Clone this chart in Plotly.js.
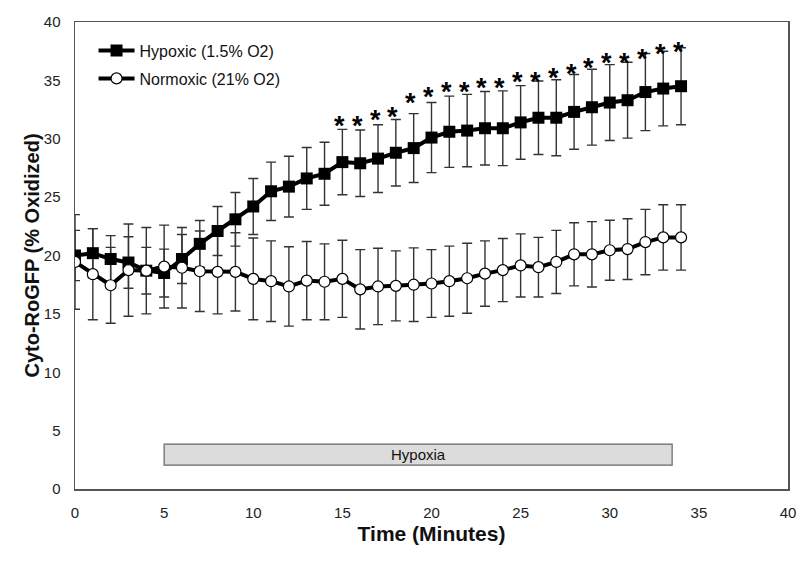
<!DOCTYPE html>
<html>
<head>
<meta charset="utf-8">
<script src="https://cdn.plot.ly/plotly-3.0.1.min.js"></script>
<style>html,body{margin:0;padding:0;background:#fff;}#chart{width:800px;height:563px;}</style>
</head>
<body>
<div id="chart"></div>
<script>
// Time points (minutes)
const timeMin = [0,1,2,3,4,5,6,7,8,9,10,11,12,13,14,15,16,17,18,19,20,21,22,23,24,25,26,27,28,29,30,31,32,33,34];

// Hypoxic (1.5% O2) mean and error
const hypoxic = [20.0,20.2,19.7,19.4,18.7,18.5,19.7,21.0,22.1,23.1,24.2,25.5,25.9,26.6,27.0,28.0,27.9,28.3,28.8,29.2,30.1,30.6,30.7,30.9,30.9,31.4,31.8,31.8,32.3,32.7,33.1,33.3,34.0,34.3,34.5];
const hypoxicErr = [2.15,2.1,2.0,2.2,2.0,2.05,2.1,2.0,2.1,2.3,2.4,2.5,2.6,2.65,2.7,2.8,2.85,2.9,2.85,2.95,3.0,3.05,3.1,3.15,3.2,3.15,3.15,3.25,3.2,3.25,3.25,3.25,3.3,3.2,3.3];

// Normoxic (21% O2) mean and error
const normoxic = [19.45,18.4,17.45,18.75,18.7,19.05,18.95,18.65,18.6,18.6,18.0,17.8,17.35,17.85,17.75,18.0,17.1,17.35,17.4,17.5,17.6,17.8,18.05,18.45,18.75,19.15,19.0,19.45,20.1,20.1,20.45,20.55,21.15,21.55,21.55];
const normoxicErr = [4.05,3.9,3.25,3.95,3.7,3.55,3.45,3.45,3.6,3.35,3.5,3.45,3.4,3.35,3.25,3.3,3.4,3.27,3.0,3.15,2.9,3.0,3.0,2.8,2.7,2.7,2.55,2.7,2.7,2.8,2.57,2.6,2.8,2.8,2.8];

// Significance markers (*)
const sigTime = [15,16,17,18,19,20,21,22,23,24,25,26,27,28,29,30,31,32,33,34];
const sigLevel = [31.5,31.5,32.0,32.3,33.5,34.0,34.4,34.4,34.75,34.75,35.25,35.25,35.6,36.0,36.45,36.9,36.9,37.3,37.7,37.9];

// Hypoxia period
const hypoxiaStart = 5, hypoxiaEnd = 33.5, hypoxiaLow = 2.05, hypoxiaHigh = 3.85;
const hypoxiaLabel = "Hypoxia";

const seriesNames = ["Hypoxic (1.5% O2)", "Normoxic (21% O2)"];
const xTitle = "Time (Minutes)";
const yTitle = "Cyto-RoGFP (% Oxidized)";

const FONT = "Liberation Sans, Arial, sans-serif";
const errStyle = {type:'data', visible:true, thickness:1.4, width:5, color:'#333'};

const traces = [
  {x:timeMin, y:hypoxic, mode:'markers', marker:{opacity:0, size:1}, showlegend:false, hoverinfo:'skip',
   error_y:Object.assign({array:hypoxicErr}, errStyle)},
  {x:timeMin, y:normoxic, mode:'markers', marker:{opacity:0, size:1}, showlegend:false, hoverinfo:'skip',
   error_y:Object.assign({array:normoxicErr}, errStyle)},
  {x:timeMin, y:hypoxic, name:seriesNames[0], mode:'lines+markers', legendgroup:'a',
   line:{color:'#000', width:4}, marker:{symbol:'square', size:12, color:'#000', line:{color:'#000', width:0}}},
  {x:timeMin, y:normoxic, name:seriesNames[1], mode:'lines+markers', legendgroup:'b',
   line:{color:'#000', width:4}, marker:{symbol:'circle', size:11, color:'#fff', line:{color:'#000', width:1.2}}}
];

const annotations = sigTime.map((t,i)=>({
  x:t, y:sigLevel[i], xref:'x', yref:'y', text:'*', showarrow:false,
  xshift:-3, yshift:-5, font:{family:FONT, size:27, color:'#000', weight:'bold'}
}));
annotations.push({
  x:(hypoxiaStart+hypoxiaEnd)/2, y:(hypoxiaLow+hypoxiaHigh)/2, xref:'x', yref:'y',
  text:hypoxiaLabel, showarrow:false, font:{family:FONT, size:15, color:'#111'}
});
annotations.push({
  x:0, y:0.5, xref:'paper', yref:'paper', xanchor:'center', yanchor:'middle', xshift:-44,
  text:'<b>'+yTitle+'</b>', textangle:-90, showarrow:false,
  font:{family:FONT, size:20, color:'#111'}
});

const layout = {
  width:800, height:563,
  margin:{l:75, r:12, t:22, b:74},
  paper_bgcolor:'#fff', plot_bgcolor:'#fff',
  font:{family:FONT, color:'#222'},
  showlegend:true,
  legend:{x:0.026, y:0.975, xanchor:'left', yanchor:'top', bgcolor:'rgba(0,0,0,0)',
          font:{family:FONT, size:16, color:'#111'}, traceorder:'grouped', tracegroupgap:4,
          itemwidth:36},
  xaxis:{range:[0,40], dtick:5, tick0:0, showgrid:false, zeroline:false, showline:true, mirror:true,
         linecolor:'#555', linewidth:1.5, ticks:'', ticklabelstandoff:9,
         tickfont:{family:FONT, size:15, color:'#222'},
         title:{text:'<b>'+xTitle+'</b>', standoff:7, font:{family:FONT, size:21, color:'#111'}}},
  yaxis:{range:[0,40], dtick:5, tick0:0, showgrid:false, zeroline:false, showline:true, mirror:true,
         linecolor:'#555', linewidth:1.5, ticks:'', ticklabelstandoff:10,
         tickfont:{family:FONT, size:15, color:'#222'}},
  shapes:[{type:'rect', xref:'x', yref:'y', x0:hypoxiaStart, x1:hypoxiaEnd, y0:hypoxiaLow, y1:hypoxiaHigh,
           fillcolor:'#dcdcdc', line:{color:'#666', width:1.2}, layer:'below'}],
  annotations:annotations
};

Plotly.newPlot('chart', traces, layout, {displayModeBar:false, staticPlot:true});
</script>
</body>
</html>
